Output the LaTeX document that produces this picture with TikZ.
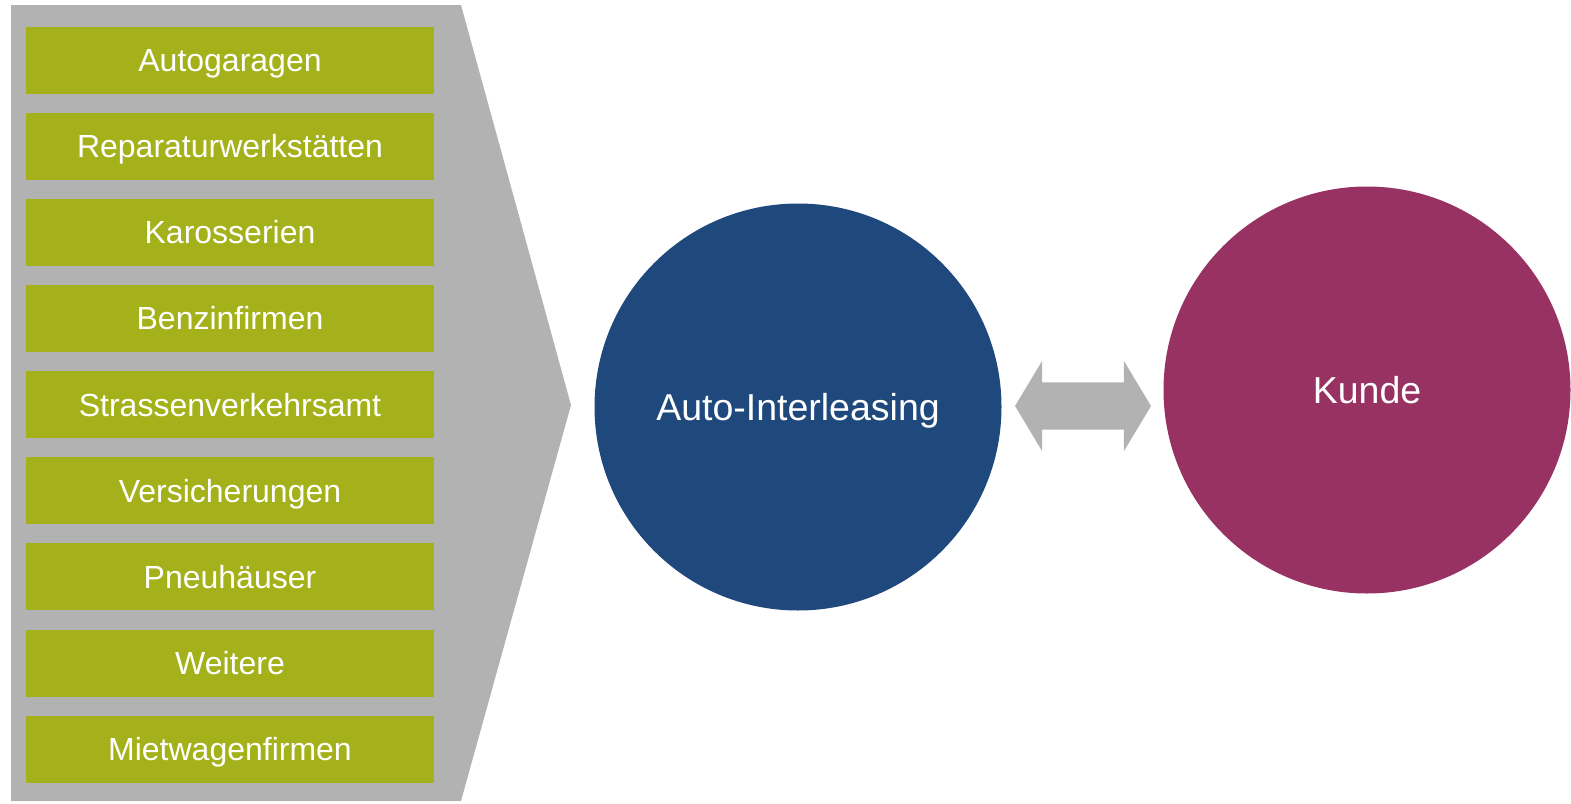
\documentclass[tikz,border=0pt]{standalone}
\usepackage{fontspec}
\setmainfont{Liberation Sans}
\usetikzlibrary{positioning,shapes.arrows}
\definecolor{partnergray}{HTML}{B2B2B2}
\definecolor{partnergreen}{HTML}{A4B11A}
\definecolor{leasingblue}{HTML}{1F497D}
\definecolor{kundepurple}{HTML}{973263}

\begin{document}
\begin{tikzpicture}[x=1pt, y=-1pt, node distance={18.75pt},
  partner/.style = {fill=partnergreen, text=white, minimum width=408pt, minimum height=67pt, inner sep=0pt, text height=23pt, text depth=0pt, font=\fontsize{32}{38}\selectfont},
  main/.style = {circle, minimum size=407pt, inner sep=0pt, text=white, text height=27pt, text depth=0pt, font=\fontsize{37.5}{45}\selectfont}]
\useasboundingbox (0,0) rectangle (1571,803);
% grauer Pfeil hinter den Partnern
\fill[partnergray] (11,5) -- (461,5) -- (571,405) -- (461,801) -- (11,801) -- cycle;
\node[partner] (1) at (230,60) {Autogaragen};
\node[partner] (2) [below=of 1] {Reparaturwerkstätten};
\node[partner] (3) [below=of 2] {Karosserien};
\node[partner] (4) [below=of 3] {Benzinfirmen};
\node[partner] (5) [below=of 4] {Strassenverkehrsamt};
\node[partner] (6) [below=of 5] {Versicherungen};
\node[partner] (7) [below=of 6] {Pneuhäuser};
\node[partner] (8) [below=of 7] {Weitere};
\node[partner] (9) [below=of 8] {Mietwagenfirmen};
\node[main, fill=leasingblue] (leasing) at (798,407) {Auto-Interleasing};
\node[main, fill=kundepurple] (kunde) at (1367,390) {Kunde};
\node[double arrow, fill=partnergray, minimum height=136pt, minimum width=90pt, inner sep=0pt, text width=60pt, text height=24pt, text depth=23pt, double arrow head extend=21.5pt, double arrow tip angle=118] (link) at (1083,406) {};
\end{tikzpicture}
\end{document}
